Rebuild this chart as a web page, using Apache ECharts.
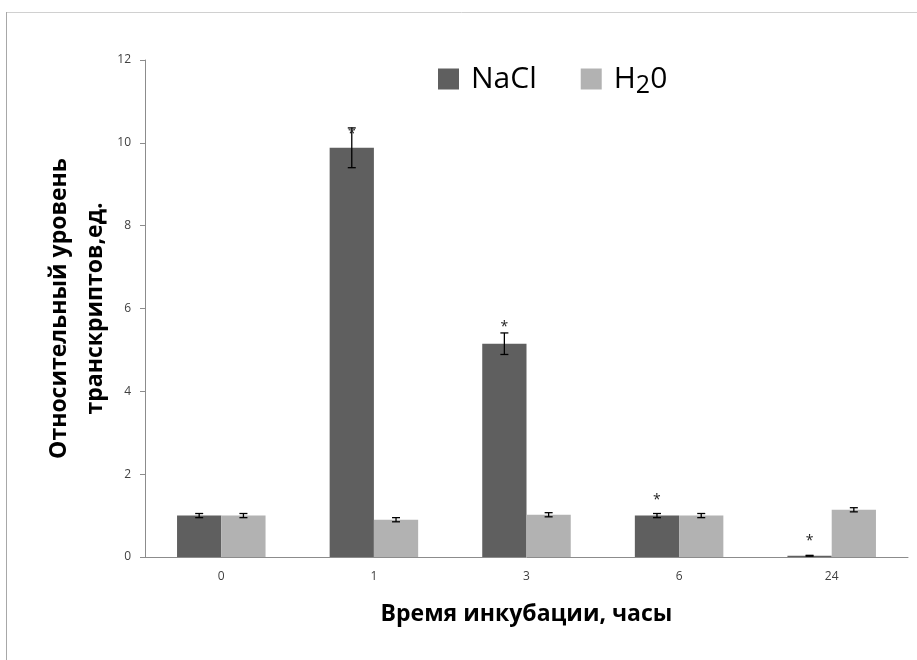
<!DOCTYPE html>
<html>
<head>
<meta charset="utf-8">
<script src="https://cdn.jsdelivr.net/npm/echarts@6/dist/echarts.min.js"></script>
<style>
  html, body { margin: 0; padding: 0; background: #fff; }
  #chart { width: 917px; height: 660px; }
</style>
</head>
<body>
<div id="chart"></div>
<script>
// categories (hours of incubation)
const hours = ['0', '1', '3', '6', '24'];
// relative transcript level
const nacl = [1.0, 9.88, 5.15, 1.0, 0.03];
const water = [1.0, 0.9, 1.02, 1.0, 1.14];
// error (±)
const naclErr = [0.05, 0.48, 0.26, 0.05, 0.01];
const waterErr = [0.05, 0.05, 0.05, 0.05, 0.05];
// asterisk heights (null = no mark)
const naclStar = [null, 10.3, 5.66, 1.47, 0.48];
const yTicks = [0, 2, 4, 6, 8, 10, 12];

let chart = echarts.init(document.getElementById('chart'));

const font = '"Open Sans", "Noto Sans", sans-serif';
const barW = 0.29;

// error bars + asterisks, shift = -1 for first bar, 1 for second
function errSeries(vals, errs, stars, shift) {
    return {
        type: 'custom',
        z: 5,
        data: vals.map((v, i) => [i, v, errs[i], stars ? stars[i] : null]),
        renderItem: function (params, api) {
            let i = api.value(0), v = api.value(1), e = api.value(2), s = api.value(3);
            let band = api.size([1, 0])[0];
            let dx = shift * band * barW / 2;
            let top = api.coord([i, v + e]);
            let bot = api.coord([i, v - e]);
            let x = top[0] + dx;
            let cap = 4;
            let style = { stroke: '#000', lineWidth: 1.3 };
            let kids = [
                { type: 'line', shape: { x1: x, y1: top[1], x2: x, y2: bot[1] }, style },
                { type: 'line', shape: { x1: x - cap, y1: top[1], x2: x + cap, y2: top[1] }, style },
                { type: 'line', shape: { x1: x - cap, y1: bot[1], x2: x + cap, y2: bot[1] }, style }
            ];
            if (s != null && !isNaN(s)) {
                let p = api.coord([i, s]);
                kids.push({
                    type: 'text',
                    style: {
                        x: x, y: p[1] + 4, text: '*', fill: '#222',
                        font: '14px ' + font, align: 'center', verticalAlign: 'middle'
                    }
                });
            }
            return { type: 'group', children: kids };
        }
    };
}

let option = {
    backgroundColor: '#fff',
    animation: false,
    textStyle: { fontFamily: font },
    grid: { left: 145, right: 9, top: 60, bottom: 103 },
    legend: {
        top: 59,
        left: 433,
        itemWidth: 21,
        itemHeight: 21,
        itemGap: 44,
        icon: 'rect',
        data: ['NaCl', 'H20'],
        formatter: function (name) {
            return name === 'H20' ? 'H{sub|2}0' : name;
        },
        textStyle: {
            fontSize: 30,
            color: '#000',
            fontFamily: font,
            padding: [0, 0, 0, 7],
            rich: {
                sub: { fontSize: 25, color: '#000', fontFamily: font, padding: [14, 0, 0, 0] }
            }
        }
    },
    xAxis: {
        type: 'category',
        data: hours,
        name: 'Время инкубации, часы',
        nameLocation: 'middle',
        nameGap: 46,
        nameTextStyle: { fontSize: 23, fontWeight: 'bold', color: '#000', fontFamily: font },
        axisLine: { lineStyle: { color: '#8c8c8c', width: 1 } },
        axisTick: { length: 5, lineStyle: { color: '#8c8c8c' } },
        axisLabel: { fontSize: 12, color: '#404040', margin: 14 }
    },
    yAxis: {
        type: 'value',
        min: 0,
        max: 12,
        interval: 2,
        name: 'Относительный уровень\nтранскриптов,ед.',
        nameLocation: 'middle',
        nameGap: 32,
        nameMoveOverlap: false,
        nameTextStyle: { fontSize: 23, fontWeight: 'bold', color: '#000', fontFamily: font, lineHeight: 36 },
        axisLine: { show: true, lineStyle: { color: '#8c8c8c', width: 1 } },
        axisTick: { show: true, length: 5, lineStyle: { color: '#8c8c8c' } },
        splitLine: { show: false },
        axisLabel: {
            fontSize: 12, color: '#404040', margin: 14,
            formatter: v => yTicks.indexOf(v) >= 0 ? String(v) : ''
        }
    },
    series: [
        {
            name: 'NaCl', type: 'bar', data: nacl,
            barWidth: (barW * 100) + '%', barGap: '0%',
            itemStyle: { color: '#5f5f5f' }
        },
        {
            name: 'H20', type: 'bar', data: water,
            barWidth: (barW * 100) + '%', barGap: '0%',
            itemStyle: { color: '#b2b2b2' }
        },
        errSeries(nacl, naclErr, naclStar, -1),
        errSeries(water, waterErr, null, 1)
    ],
    graphic: [
        // picture frame
        { type: 'line', shape: { x1: 6, y1: 12.5, x2: 917, y2: 12.5 }, style: { stroke: '#d0d0d0', lineWidth: 1 } },
        { type: 'line', shape: { x1: 6.5, y1: 12, x2: 6.5, y2: 660 }, style: { stroke: '#a8a8a8', lineWidth: 1 } }
    ]
};

chart.setOption(option);
</script>
</body>
</html>
